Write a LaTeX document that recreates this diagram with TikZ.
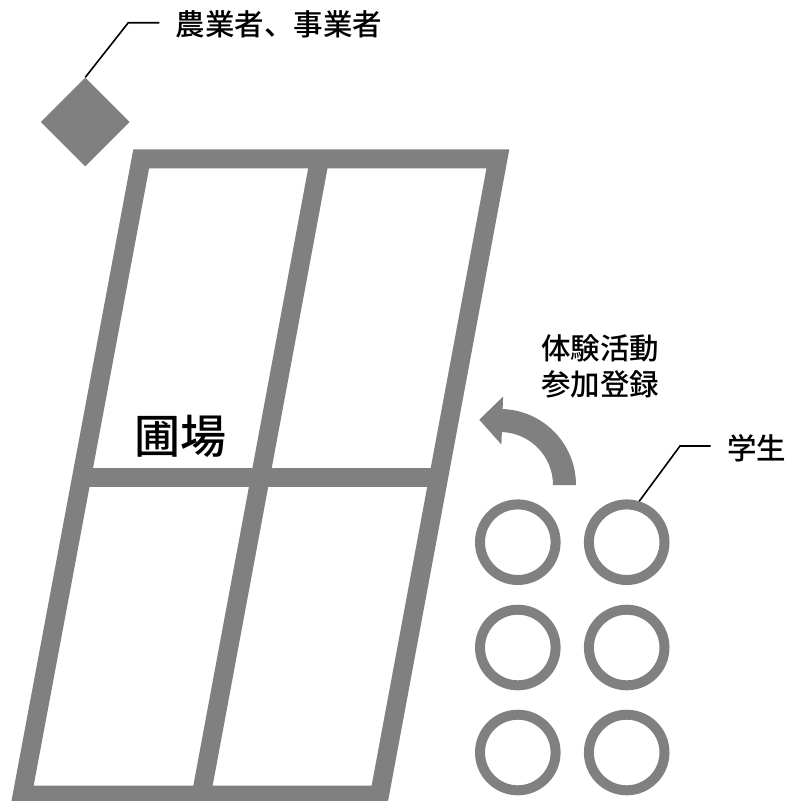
\documentclass[tikz,border=0pt]{standalone}
\usepackage{fontspec}
\newfontfamily\jp{Noto Sans CJK JP Medium}
\usetikzlibrary{shapes.geometric,calc}
\definecolor{fieldgray}{HTML}{808080}
\begin{document}
\begin{tikzpicture}[x=1pt,y=1pt,
  frame/.style={draw=fieldgray,line width=19pt,line join=miter},
  leader/.style={draw=black,line width=1.6pt},
  lbl/.style={font=\jp\fontsize{29.5}{36}\selectfont,inner sep=0pt,align=center},
  person/.style={circle,draw=fieldgray,line width=10pt,minimum size=75.6pt,inner sep=0pt}]
\useasboundingbox (0,0) rectangle (793,-801);
% field frame
\coordinate (TL) at (141.2,-158.8);
\coordinate (TM) at (319.6,-158.8);
\coordinate (TR) at (497.9,-158.8);
\coordinate (ML) at (82.0,-477);
\coordinate (MR) at (438.7,-477);
\coordinate (BL) at (22.2,-795.2);
\coordinate (BM) at (201.2,-795.2);
\coordinate (BR) at (379.5,-795.2);
\draw[frame] (TL) -- (TR) -- (BR) -- (BL) -- cycle;
\draw[frame] (TM) -- (BM);
\draw[frame] (ML) -- (MR);
\node[font=\jp\fontsize{46}{50}\selectfont,inner sep=0pt] (field) at (180,-436.7) {圃場};
% farmer
\node[diamond,aspect=1,fill=fieldgray,minimum width=89pt,minimum height=89pt,inner sep=0pt] (farmer) at (85.3,-122) {};
\node[lbl] (farmerlbl) at (279,-24.5) {農業者、事業者};
\coordinate (fbend) at (128.3,-22.7);
\coordinate (fend) at (159.3,-22.7);
\draw[leader] (farmer.north) -- (fbend) -- (fend);
% curved arrow
\coordinate (C) at (500,-485);
\fill[fieldgray] ($(C)+(0:76)$) arc[start angle=0,end angle=88,radius=76]
  -- ($(C)+(88:88.5)$) -- ($(C)+(88:64.5)+(178:23)$) -- ($(C)+(88:40.5)$)
  -- ($(C)+(88:53)$) arc[start angle=88,end angle=0,radius=53] -- cycle;
\node[lbl] (activity) at (600,-366) {体験活動\\参加登録};
% students
\foreach \r/\y in {1/-542.2,2/-647.5,3/-752.5}{
  \node[person] (s\r a) at (517.8,\y) {};
  \node[person] (s\r b) at (626.7,\y) {};
}
\node[lbl] (studentlbl) at (756.7,-448) {学生};
\coordinate (sbend) at (680,-446);
\coordinate (send) at (710.7,-446);
\draw[leader] (s1b.73.6) -- (sbend) -- (send);
\end{tikzpicture}
\end{document}
